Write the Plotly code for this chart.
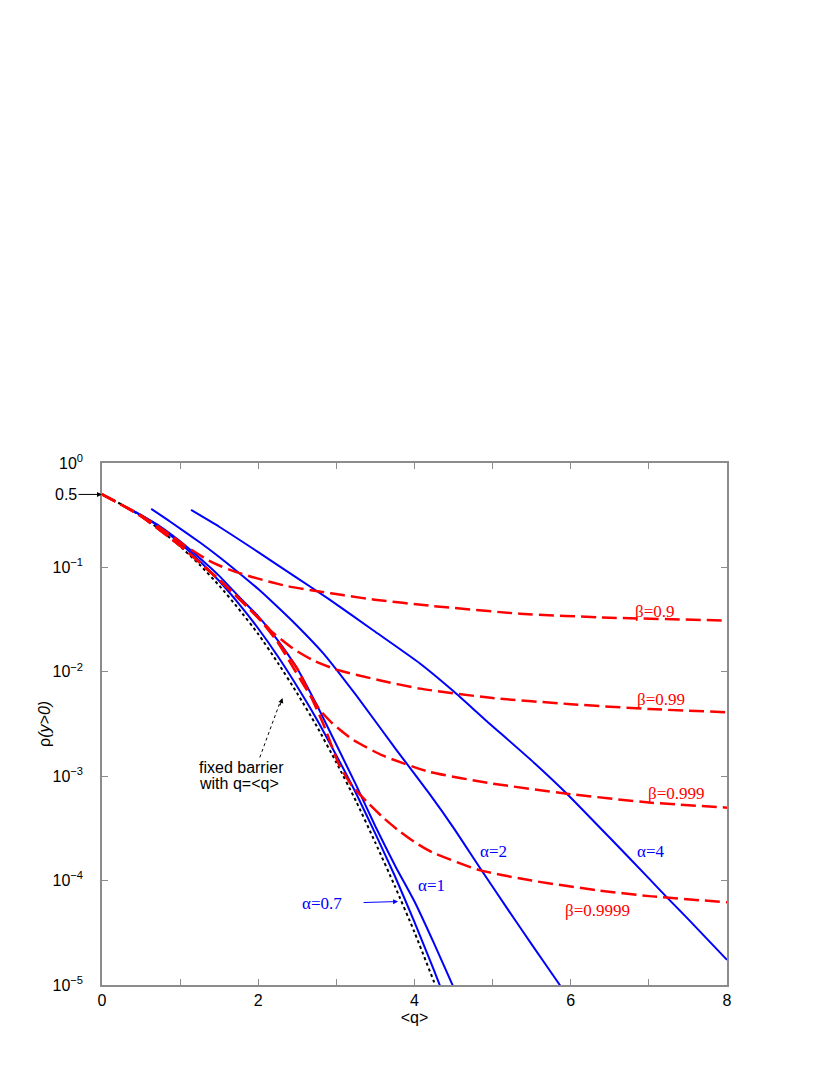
import numpy as np
import plotly.graph_objects as go

# fixed barrier with q=<q> (black dotted)
q_fixed = [0, 0.25, 0.5, 0.75, 1.0, 1.25, 1.5, 1.75, 2.0, 2.25, 2.5, 2.75, 3.0, 3.25, 3.5, 3.75, 4.0, 4.25, 4.35]
rho_fixed = [0.5, 0.40, 0.31, 0.227, 0.159, 0.106, 0.067, 0.040, 0.023, 0.0122, 0.0062, 0.0030,
             0.00135, 0.00058, 0.00023, 8.8e-5, 3.2e-5, 1.07e-5, 6.8e-6]

# alpha curves (blue solid)
q_a07 = [0.3, 0.5, 0.75, 1.0, 1.25, 1.5, 1.75, 2.0, 2.25, 2.5, 2.75, 3.0, 3.25, 3.5, 3.75, 4.0, 4.25, 4.4]
rho_a07 = [0.38, 0.316, 0.240, 0.170, 0.115, 0.074, 0.045, 0.026, 0.0141, 0.0072, 0.0035, 0.00158,
           0.00069, 0.00028, 0.00011, 4.0e-5, 1.38e-5, 7.1e-6]

q_a1 = [0.3, 0.5, 0.75, 1.0, 1.25, 1.5, 1.79, 2.0, 2.25, 2.5, 2.75, 3.0, 3.25, 3.5, 3.76, 4.0, 4.25, 4.5, 4.6]
rho_a1 = [0.38, 0.316, 0.245, 0.178, 0.123, 0.083, 0.049, 0.034, 0.020, 0.0107, 0.0048, 0.0020,
          0.00083, 0.00033, 0.000135, 6.3e-5, 2.5e-5, 9.5e-6, 6.3e-6]

q_a2 = [0.63, 0.87, 1.25, 1.5, 1.75, 2.0, 2.15, 2.5, 2.83, 3.25, 3.77, 4.19, 4.5, 4.83, 5.25, 5.5, 5.86, 6.0]
rho_a2 = [0.363, 0.275, 0.174, 0.126, 0.089, 0.062, 0.049, 0.0275, 0.0151, 0.0060, 0.00178, 0.00068,
          0.00032, 0.000135, 4.6e-5, 2.45e-5, 1.0e-5, 7.1e-6]

q_a4 = [1.14, 1.5, 2.0, 2.5, 2.9, 3.47, 4.07, 4.5, 4.9, 5.5, 5.95, 6.5, 7.0, 7.24, 7.5, 8.0]
rho_a4 = [0.355, 0.245, 0.140, 0.079, 0.050, 0.025, 0.012, 0.0065, 0.0035, 0.00141, 0.00068,
          0.000257, 0.000105, 6.8e-5, 4.3e-5, 1.74e-5]

# beta curves (red dashed)
q_b9 = [0, 0.25, 0.5, 0.8, 1.06, 1.36, 1.53, 1.74, 1.92, 2.17, 2.38, 2.76, 3.1, 3.49, 4.19, 5.35, 6.5, 8.0]
rho_b9 = [0.5, 0.398, 0.316, 0.224, 0.162, 0.117, 0.102, 0.089, 0.081, 0.072, 0.066, 0.059,
          0.054, 0.049, 0.043, 0.036, 0.033, 0.031]

q_b99 = [0, 0.25, 0.5, 1.0, 1.5, 1.8, 2.15, 2.45, 2.7, 3.0, 3.55, 4.07, 5.0, 6.0, 7.0, 8.0]
rho_b99 = [0.5, 0.398, 0.309, 0.162, 0.076, 0.047, 0.0251, 0.0166, 0.0129, 0.0105, 0.0083,
           0.0069, 0.0056, 0.0049, 0.0044, 0.0041]

q_b999 = [0, 0.25, 0.5, 1.0, 1.5, 2.0, 2.15, 2.4, 2.6, 2.79, 2.95, 3.21, 3.59, 4.19, 5.0, 5.95, 7.0, 8.0]
rho_b999 = [0.5, 0.398, 0.309, 0.162, 0.076, 0.033, 0.0251, 0.0126, 0.0071, 0.0043, 0.0032,
            0.00224, 0.00158, 0.0011, 0.00085, 0.00068, 0.00056, 0.0005]

q_b9999 = [0, 0.25, 0.5, 1.0, 1.5, 2.0, 2.5, 2.83, 3.04, 3.21, 3.4, 3.6, 3.8, 4.0, 4.23, 4.83,
           5.5, 6.33, 7.0, 8.0]
rho_b9999 = [0.5, 0.398, 0.309, 0.162, 0.076, 0.033, 0.0107, 0.0032, 0.00126, 0.00079, 0.00056,
             0.0004, 0.0003, 0.000234, 0.000186, 0.000126, 0.0001, 8.1e-5, 7.1e-5, 6.2e-5]

x_ticks = [0, 1, 2, 3, 4, 5, 6, 7, 8]
x_ticktext = ['0', '', '2', '', '4', '', '6', '', '8']
y_ticks = [1, 0.1, 0.01, 0.001, 0.0001, 0.00001]
y_ticktext = ['10<sup>0</sup>', '10<sup>\u22121</sup>', '10<sup>\u22122</sup>',
              '10<sup>\u22123</sup>', '10<sup>\u22124</sup>', '10<sup>\u22125</sup>']

BLUE = '#0000ff'
RED = '#ff0000'
SERIF = 'Liberation Serif, Times New Roman, serif'
SANS = 'Liberation Sans, Arial, sans-serif'

fig = go.Figure()


def add_line(x, y, color, dash, width):
    fig.add_trace(go.Scatter(x=x, y=y, mode='lines', hoverinfo='skip', showlegend=False,
                             line=dict(color=color, dash=dash, width=width,
                                       shape='spline', smoothing=0.5)))


add_line(q_fixed, rho_fixed, 'black', 'dot', 2)
for qq, rr in [(q_a07, rho_a07), (q_a1, rho_a1), (q_a2, rho_a2), (q_a4, rho_a4)]:
    add_line(qq, rr, BLUE, 'solid', 2)
for qq, rr in [(q_b9, rho_b9), (q_b99, rho_b99), (q_b999, rho_b999), (q_b9999, rho_b9999)]:
    add_line(qq, rr, RED, '15px,6px', 2.5)

# dotted pointer for the fixed barrier label
fig.add_trace(go.Scatter(x=[2.02, 2.28], y=[10 ** -2.82, 10 ** -2.29], mode='lines',
                         hoverinfo='skip', showlegend=False,
                         line=dict(color='black', dash='dot', width=1)))


def label(x, y, text, color, family=SERIF, size=17, **kw):
    fig.add_annotation(x=x, y=np.log10(y), text=text, showarrow=False,
                       font=dict(family=family, size=size, color=color), **kw)


label(7.08, 0.0374, '\u03b2=0.9', RED)
label(7.16, 0.0054, '\u03b2=0.99', RED)
label(7.35, 0.00069, '\u03b2=0.999', RED)
label(6.34, 5.2e-5, '\u03b2=0.9999', RED)
label(5.01, 1.9e-4, '\u03b1=2', BLUE)
label(7.02, 1.9e-4, '\u03b1=4', BLUE)
label(4.22, 8.9e-5, '\u03b1=1', BLUE)
label(2.81, 6.0e-5, '\u03b1=0.7', BLUE)
label(1.21, 1.2e-3, 'fixed barrier', 'black', family=SANS, size=16, xanchor='left')
label(1.21, 8.6e-4, 'with q=&lt;q&gt;', 'black', family=SANS, size=16, xanchor='left')

# arrow to alpha=0.7 curve
fig.add_annotation(x=3.79, y=np.log10(6.3e-5), ax=-36, ay=1, text='', showarrow=True,
                   arrowhead=2, arrowsize=1, arrowwidth=1, arrowcolor=BLUE, standoff=0)
# arrowhead for fixed barrier pointer
fig.add_annotation(x=2.31, y=np.log10(5.6e-3), ax=-3, ay=9, text='', showarrow=True,
                   arrowhead=2, arrowsize=1, arrowwidth=1, arrowcolor='black', standoff=0)
# 0.5 marker on the left
fig.add_annotation(x=0, xref='paper', y=np.log10(0.5), ax=-36, ay=0, text='0.5',
                   showarrow=True, arrowhead=2, arrowsize=1, arrowwidth=1, arrowcolor='black',
                   standoff=0, font=dict(family=SANS, size=16, color='black'))
# y axis title
fig.add_annotation(x=-0.093, xref='paper', y=0.5, yref='paper', text='\u03c1<i>(y&gt;0)</i>',
                   xanchor='center', yanchor='middle', textangle=-90, showarrow=False,
                   font=dict(family=SANS, size=16, color='black'))

axis_style = dict(showline=True, linecolor='#8c8c8c', linewidth=1.5, mirror='ticks',
                  ticks='inside', ticklen=6, tickcolor='#8c8c8c', showgrid=False, zeroline=False,
                  tickfont=dict(family=SANS, size=16, color='black'))

# the page body adds an 8px margin, so the figure is drawn 8px smaller
fig.update_layout(
    width=822, height=1067,
    margin=dict(l=94, r=103, t=455, b=90),
    paper_bgcolor='white', plot_bgcolor='white',
    showlegend=False,
    font=dict(family=SANS, size=16, color='black'),
    xaxis=dict(range=[0, 8], tickvals=x_ticks, ticktext=x_ticktext,
               title=dict(text='&lt;q&gt;', standoff=0, font=dict(family=SANS, size=16)),
               **axis_style),
    yaxis=dict(type='log', range=[-5, 0], tickvals=y_ticks, ticktext=y_ticktext,
               ticklabelstandoff=14, **axis_style),
)

fig.write_html("out.html")
